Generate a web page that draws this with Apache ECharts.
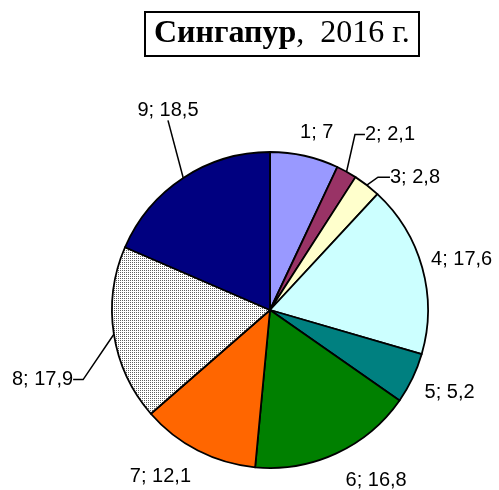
<!DOCTYPE html>
<html><head><meta charset="utf-8">
<script src="https://cdn.jsdelivr.net/npm/echarts@6/dist/echarts.min.js"></script>
<style>html,body{margin:0;padding:0;background:#fff}#c{width:499px;height:490px}</style>
</head><body><div id="c"></div>
<script>
const categories = ['1','2','3','4','5','6','7','8','9'];
const values = [7, 2.1, 2.8, 17.6, 5.2, 16.8, 12.1, 17.9, 18.5];
const colors = ['#9999FF','#993366','#FFFFCC','#CCFFFF','#008080','#008000','#FF6600',null,'#000080'];
const showLine = [false,true,true,false,false,false,false,true,true];
const len1 = [12,38,10,6,10,10,4,22,45];
const len2 = [0,10,12,4,4,0,0,10,0];
const labelDx = [-12,-15,0,-6,-6,0,0,-4,45];
const labelDy = [-12,-4,0,-7,10,18,22,42,-30];

const pc = document.createElement('canvas');
pc.width = 2; pc.height = 2;
const g = pc.getContext('2d');
g.fillStyle = '#ffffff'; g.fillRect(0,0,2,2);
g.fillStyle = '#606060'; g.fillRect(0,0,1,1);

const chart = echarts.init(document.getElementById('c'), null, {renderer:'canvas'});
const data = categories.map((n,i)=>({
  name:n, value:values[i],
  itemStyle:{color: colors[i] || {image: pc, repeat:'repeat'}},
  labelLine:{show:showLine[i], length:len1[i], length2:len2[i]}
}));
chart.setOption({
  animation:false,
  title:{
    text:'{b|Сингапур},  2016 г.',
    left:145, top:12,
    borderColor:'#000', borderWidth:2, padding:[6,9,6,9],
    textStyle:{fontFamily:'Liberation Serif', fontSize:32, fontWeight:'normal', color:'#000',
      rich:{b:{fontFamily:'Liberation Serif', fontSize:32, fontWeight:'bold', color:'#000'}}}
  },
  series:[{
    type:'pie', center:[270,310], radius:158, startAngle:90, clockwise:true,
    avoidLabelOverlap:false,
    itemStyle:{borderColor:'#000', borderWidth:1.8},
    label:{show:true, position:'outside', color:'#000', fontFamily:'Liberation Sans', fontSize:20,
      formatter:p=>p.name+'; '+String(p.value).replace('.',',')},
    labelLine:{lineStyle:{color:'#000', width:1.5}, smooth:false},
    labelLayout:function(p){
      const r = p.labelRect, i = p.dataIndex;
      return {x: r.x + r.width/2 + labelDx[i], y: r.y + r.height/2 + labelDy[i], align:'center', verticalAlign:'middle'};
    },
    emphasis:{disabled:true},
    data:data
  }]
});
</script></body></html>
